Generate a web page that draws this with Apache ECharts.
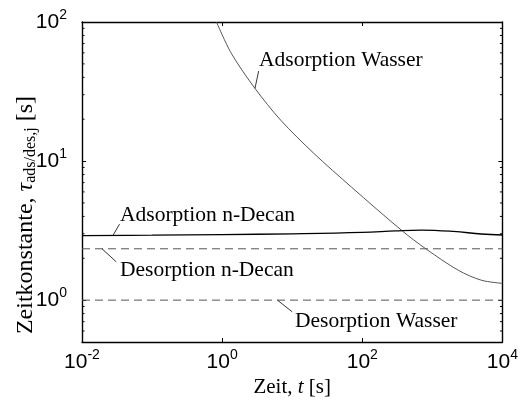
<!DOCTYPE html>
<html>
<head>
<meta charset="utf-8">
<script src="https://cdn.jsdelivr.net/npm/echarts@6/dist/echarts.min.js"></script>
<style>html,body{margin:0;padding:0;background:#fff}#c{width:521px;height:405px}</style>
</head>
<body>
<div id="c"></div>
<script>
// ---- data ----
const xMin = 0.01, xMax = 10000, yMin = 0.5, yMax = 100;
const adsWasserT = [0.83, 1.35, 2.94, 6.84, 20.2, 70, 374, 796, 2344, 5012, 10000];
const adsWasserY = [100, 59.6, 33.3, 19.7, 11.4, 6.5, 3.14, 2.35, 1.64, 1.39, 1.32];
const adsDecanT = [0.01, 0.1, 1, 10, 100, 300, 700, 2000, 5000, 10000];
const adsDecanY = [2.91, 2.93, 2.96, 3.0, 3.07, 3.15, 3.19, 3.12, 2.99, 2.94];
const desDecanT = [0.01, 10000];
const desDecanY = [2.34, 2.34];
const desWasserT = [0.01, 10000];
const desWasserY = [1.0, 1.0];
const yMinorTicks = [0.6, 0.7, 0.8, 0.9, 2, 3, 4, 5, 6, 7, 8, 9, 20, 30, 40, 50, 60, 70, 80, 90];
// leader lines of the annotations, [t, y] pairs
const leaderAdsWasser = [[3.32, 44.4], [2.94, 33.3]];
const leaderAdsDecan = [[0.0343, 3.52], [0.0276, 2.91]];
const leaderDesDecan = [[0.0193, 2.34], [0.0308, 1.886]];
const leaderDesWasser = [[6.15, 1.0], [10, 0.824]];

const zip = (a, b) => a.map((v, i) => [v, b[i]]);
const serif = 'Liberation Serif';
const sans = 'Liberation Sans';

function powLabel(v) {
  const l = Math.log10(v);
  const e = Math.round(l);
  if (Math.abs(l - e) > 1e-6) return '';
  return '{b|10}{s|' + e + '}';
}
const powRich = {
  b: { fontSize: 21, fontFamily: sans, color: '#000', lineHeight: 28 },
  s: { fontSize: 14, fontFamily: sans, color: '#000', verticalAlign: 'top', lineHeight: 14 }
};

function leader(pts) {
  return {
    silent: true, symbol: 'none', animation: false,
    lineStyle: { color: '#000', width: 0.8, type: 'solid' },
    label: { show: false },
    data: [[{ coord: pts[0] }, { coord: pts[1] }]]
  };
}

const chart = echarts.init(document.getElementById('c'), null, { renderer: 'canvas' });
chart.setOption({
  backgroundColor: '#fff',
  animation: false,
  grid: { left: 82, right: 13, top: 22, bottom: 63 },
  xAxis: [{
    type: 'log', min: xMin, max: xMax, interval: 2, position: 'bottom',
    axisLine: { show: true, lineStyle: { color: '#000', width: 1.4 } },
    axisTick: { show: true, inside: true, length: 4, lineStyle: { color: '#000', width: 1 } },
    axisLabel: { formatter: powLabel, rich: powRich, margin: 6, showMinLabel: true, showMaxLabel: true },
    splitLine: { show: false },
    name: '{n|Zeit, }{i|t}{n| [s]}', nameLocation: 'middle', nameGap: 19,
    nameTextStyle: { rich: {
      n: { fontSize: 21, fontFamily: serif, color: '#000' },
      i: { fontSize: 21, fontFamily: serif, fontStyle: 'italic', color: '#000' } } }
  }, {
    type: 'log', min: xMin, max: xMax, interval: 2, position: 'top',
    axisLine: { show: true, lineStyle: { color: '#000', width: 1.4 } },
    axisTick: { show: true, inside: true, length: 4, lineStyle: { color: '#000', width: 1 } },
    axisLabel: { show: false }, splitLine: { show: false }
  }],
  yAxis: [{
    type: 'log', min: yMin, max: yMax, position: 'left',
    axisLine: { show: true, lineStyle: { color: '#000', width: 1.4 } },
    axisTick: { show: true, inside: true, length: 4, lineStyle: { color: '#000', width: 1 } },
    axisLabel: { formatter: powLabel, rich: powRich, margin: 15, align: 'right' },
    splitLine: { show: false }
  }, {
    type: 'log', min: yMin, max: yMax, position: 'right',
    axisLine: { show: true, lineStyle: { color: '#000', width: 1.4 } },
    axisTick: { show: true, inside: true, length: 4, lineStyle: { color: '#000', width: 1 } },
    axisLabel: { show: false }, splitLine: { show: false }
  }],
  graphic: [
    { type: 'text', x: 26, y: 215, rotation: Math.PI / 2,
      style: { text: '{n|Zeitkonstante, }{i|τ}{sub|ads/des,j}{n| [s]}', align: 'center', verticalAlign: 'middle',
        rich: {
          n: { fontSize: 24, fontFamily: serif, fill: '#000', lineHeight: 26 },
          i: { fontSize: 24, fontFamily: serif, fontStyle: 'italic', fill: '#000', lineHeight: 26 },
          sub: { fontSize: 16, fontFamily: serif, fill: '#000', verticalAlign: 'bottom', lineHeight: 16 }
        } } },
    { type: 'text', x: 259, y: 60.5, style: { text: 'Adsorption Wasser', font: '21.5px "Liberation Serif"', fill: '#000', align: 'left', verticalAlign: 'middle' } },
    { type: 'text', x: 120, y: 215.5, style: { text: 'Adsorption n-Decan', font: '21.5px "Liberation Serif"', fill: '#000', align: 'left', verticalAlign: 'middle' } },
    { type: 'text', x: 120, y: 270.5, style: { text: 'Desorption n-Decan', font: '21.5px "Liberation Serif"', fill: '#000', align: 'left', verticalAlign: 'middle' } },
    { type: 'text', x: 295, y: 321.5, style: { text: 'Desorption Wasser', font: '21.5px "Liberation Serif"', fill: '#000', align: 'left', verticalAlign: 'middle' } }
  ],
  series: [
    { type: 'line', name: 'Adsorption Wasser', data: zip(adsWasserT, adsWasserY), smooth: 0.3,
      showSymbol: false, lineStyle: { color: '#555', width: 1 }, markLine: leader(leaderAdsWasser) },
    { type: 'line', name: 'Adsorption n-Decan', data: zip(adsDecanT, adsDecanY), smooth: 0.4,
      showSymbol: false, lineStyle: { color: '#000', width: 1.3 }, markLine: leader(leaderAdsDecan) },
    { type: 'line', name: 'Desorption n-Decan', data: zip(desDecanT, desDecanY),
      showSymbol: false, lineStyle: { color: '#555', width: 1, type: [8, 5] }, markLine: leader(leaderDesDecan) },
    { type: 'line', name: 'Desorption Wasser', data: zip(desWasserT, desWasserY),
      showSymbol: false, lineStyle: { color: '#555', width: 1, type: [8, 5] }, markLine: leader(leaderDesWasser) },
    { type: 'custom', name: 'minorTicks', silent: true, clip: false,
      data: yMinorTicks.map(v => [xMin, v]), encode: { x: 0, y: 1 },
      renderItem: function (params, api) {
        const v = api.value(1);
        const p = api.coord([xMin, v]);
        const q = api.coord([xMax, v]);
        const st = { stroke: '#000', lineWidth: 1 };
        return { type: 'group', children: [
          { type: 'line', shape: { x1: p[0], y1: p[1], x2: p[0] + 2.5, y2: p[1] }, style: st },
          { type: 'line', shape: { x1: q[0] - 2.5, y1: q[1], x2: q[0], y2: q[1] }, style: st }
        ] };
      } }
  ]
});
</script>
</body>
</html>
